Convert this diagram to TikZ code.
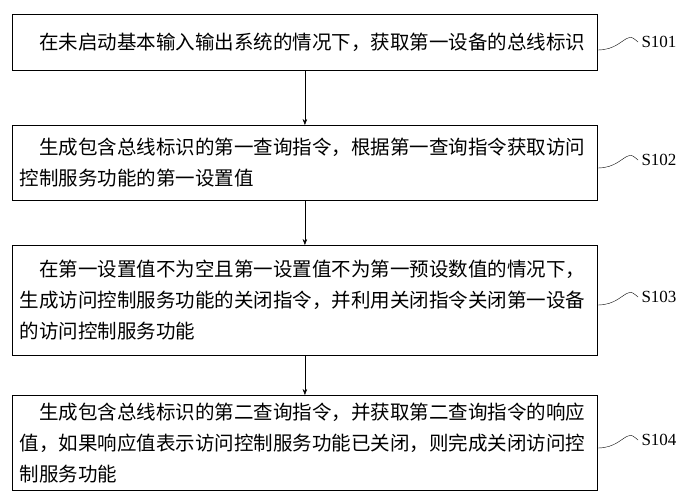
\documentclass[tikz,border=0pt]{standalone}
\usetikzlibrary{arrows.meta}
\usepackage{fontspec}
\newfontfamily\cjk{Noto Sans CJK SC}
\setmainfont{Liberation Serif}
\begin{document}
\begin{tikzpicture}[x=1pt,y=-1pt,
 box/.style={draw,thick,minimum width=585pt,anchor=north west,align=left,inner sep=0pt,font=\cjk\fontsize{19.5}{31}\selectfont,text width=570pt},
 lbl/.style={font=\fontsize{17}{20}\selectfont,anchor=west}]
\useasboundingbox (0,0) rectangle (687,500);
\node[box,minimum height=56pt] (b1) at (12,14) {\hspace*{1em}在未启动基本输入输出系统的情况下，获取第一设备的总线标识};
\node[box,minimum height=75pt] (b2) at (12,125) {\hspace*{1em}生成包含总线标识的第一查询指令，根据第一查询指令获取访问\\控制服务功能的第一设置值};
\node[box,minimum height=110pt] (b3) at (12,245) {\hspace*{1em}在第一设置值不为空且第一设置值不为第一预设数值的情况下，\\生成访问控制服务功能的关闭指令，并利用关闭指令关闭第一设备\\的访问控制服务功能};
\node[box,minimum height=95pt] (b4) at (12,395) {\hspace*{1em}生成包含总线标识的第二查询指令，并获取第二查询指令的响应\\值，如果响应值表示访问控制服务功能已关闭，则完成关闭访问控\\制服务功能};
\foreach \a/\b in {b1/b2,b2/b3,b3/b4}
  \draw[-{Stealth[length=6pt]}] (\a.south) -- (\b.north);
\foreach \b/\y/\t in {b1/42/S101,b2/160/S102,b3/297/S103,b4/440/S104}{
  \node[lbl] (l\b) at (638,\y) {\t};
  \draw (\b.east |- 0,\y+8) .. controls (615,\y+8) and (622,\y-2) .. (628,\y-4) .. controls (632,\y-5) .. (l\b.west);
}
\end{tikzpicture}
\end{document}
